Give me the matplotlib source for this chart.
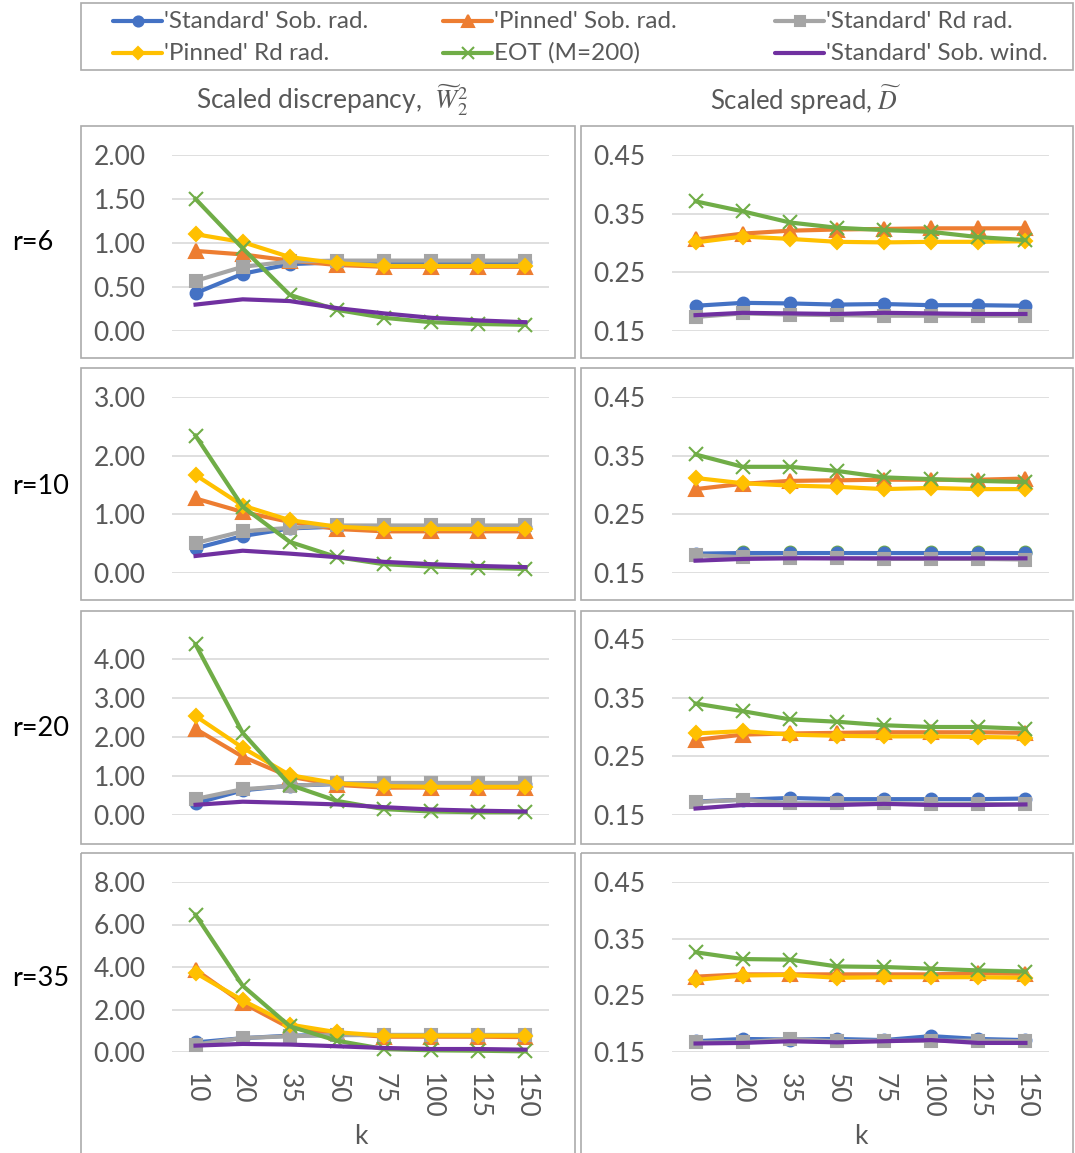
import numpy as np
import matplotlib
matplotlib.use('Agg')
import matplotlib.pyplot as plt
from matplotlib.patches import Rectangle
from matplotlib.ticker import FixedLocator, FormatStrFormatter

plt.rcParams['font.family'] = ['Lato', 'DejaVu Sans']
plt.rcParams['mathtext.fontset'] = 'stix'

k_labels = ['10', '20', '35', '50', '75', '100', '125', '150']
r_labels = ['r=6', 'r=10', 'r=20', 'r=35']

series_names = ["'Standard' Sob. rad.", "'Pinned' Sob. rad.", "'Standard' Rd rad.",
                "'Pinned' Rd rad.", "EOT (M=200)", "'Standard' Sob. wind."]

# scaled discrepancy, one row per r
w2_std_sob_rad = [[0.43, 0.65, 0.76, 0.78, 0.78, 0.78, 0.78, 0.78],
                  [0.42, 0.63, 0.76, 0.79, 0.78, 0.78, 0.78, 0.78],
                  [0.30, 0.63, 0.75, 0.79, 0.80, 0.80, 0.80, 0.80],
                  [0.45, 0.65, 0.77, 0.80, 0.80, 0.80, 0.80, 0.80]]
w2_pin_sob_rad = [[0.91, 0.87, 0.80, 0.75, 0.73, 0.73, 0.73, 0.73],
                  [1.27, 1.04, 0.87, 0.75, 0.71, 0.71, 0.71, 0.71],
                  [2.20, 1.49, 0.98, 0.77, 0.70, 0.70, 0.70, 0.70],
                  [3.87, 2.31, 1.13, 0.89, 0.72, 0.72, 0.72, 0.70]]
w2_std_rd_rad = [[0.57, 0.73, 0.79, 0.80, 0.80, 0.80, 0.80, 0.80],
                 [0.51, 0.71, 0.77, 0.81, 0.81, 0.81, 0.81, 0.81],
                 [0.41, 0.66, 0.74, 0.81, 0.82, 0.82, 0.82, 0.82],
                 [0.35, 0.66, 0.74, 0.80, 0.80, 0.80, 0.80, 0.80]]
w2_pin_rd_rad = [[1.10, 1.01, 0.84, 0.77, 0.74, 0.74, 0.74, 0.74],
                 [1.67, 1.15, 0.90, 0.79, 0.75, 0.75, 0.75, 0.75],
                 [2.53, 1.72, 1.02, 0.81, 0.74, 0.72, 0.72, 0.72],
                 [3.72, 2.43, 1.29, 0.93, 0.77, 0.77, 0.77, 0.77]]
w2_eot = [[1.50, 0.94, 0.41, 0.24, 0.15, 0.10, 0.08, 0.07],
          [2.34, 1.13, 0.53, 0.27, 0.15, 0.11, 0.09, 0.07],
          [4.36, 2.10, 0.77, 0.36, 0.15, 0.09, 0.07, 0.07],
          [6.45, 3.12, 1.21, 0.53, 0.14, 0.08, 0.06, 0.03]]
w2_std_sob_wind = [[0.30, 0.36, 0.34, 0.26, 0.20, 0.15, 0.12, 0.10],
                   [0.29, 0.38, 0.33, 0.27, 0.19, 0.15, 0.12, 0.10],
                   [0.26, 0.34, 0.31, 0.27, 0.20, 0.14, 0.11, 0.09],
                   [0.30, 0.38, 0.35, 0.27, 0.19, 0.14, 0.14, 0.11]]

# scaled spread, one row per r
d_std_sob_rad = [[0.193, 0.198, 0.197, 0.195, 0.196, 0.194, 0.194, 0.193],
                 [0.183, 0.184, 0.184, 0.184, 0.184, 0.184, 0.184, 0.184],
                 [0.173, 0.176, 0.179, 0.177, 0.177, 0.177, 0.177, 0.178],
                 [0.169, 0.173, 0.172, 0.173, 0.171, 0.178, 0.173, 0.171]]
d_pin_sob_rad = [[0.306, 0.316, 0.321, 0.323, 0.324, 0.325, 0.325, 0.325],
                 [0.293, 0.302, 0.307, 0.308, 0.309, 0.309, 0.309, 0.311],
                 [0.278, 0.287, 0.289, 0.290, 0.291, 0.291, 0.291, 0.290],
                 [0.283, 0.287, 0.287, 0.287, 0.287, 0.287, 0.289, 0.288]]
d_std_rd_rad = [[0.174, 0.180, 0.178, 0.177, 0.176, 0.176, 0.176, 0.176],
                [0.180, 0.177, 0.176, 0.175, 0.174, 0.174, 0.174, 0.173],
                [0.172, 0.176, 0.170, 0.170, 0.170, 0.169, 0.169, 0.168],
                [0.167, 0.167, 0.173, 0.169, 0.170, 0.170, 0.170, 0.169]]
d_pin_rd_rad = [[0.301, 0.311, 0.307, 0.302, 0.301, 0.302, 0.302, 0.303],
                [0.312, 0.303, 0.299, 0.297, 0.293, 0.295, 0.293, 0.293],
                [0.289, 0.293, 0.287, 0.285, 0.284, 0.284, 0.283, 0.282],
                [0.277, 0.285, 0.286, 0.281, 0.282, 0.282, 0.282, 0.281]]
d_eot = [[0.371, 0.354, 0.335, 0.326, 0.322, 0.319, 0.310, 0.305],
         [0.352, 0.331, 0.331, 0.324, 0.313, 0.310, 0.307, 0.305],
         [0.340, 0.327, 0.313, 0.309, 0.303, 0.300, 0.300, 0.297],
         [0.326, 0.314, 0.313, 0.301, 0.300, 0.297, 0.294, 0.292]]
d_std_sob_wind = [[0.177, 0.181, 0.180, 0.179, 0.181, 0.180, 0.179, 0.179],
                  [0.171, 0.174, 0.175, 0.175, 0.175, 0.175, 0.175, 0.175],
                  [0.161, 0.167, 0.167, 0.167, 0.169, 0.167, 0.167, 0.168],
                  [0.165, 0.166, 0.169, 0.167, 0.169, 0.171, 0.166, 0.166]]

# stray hollow markers sitting in the r=10 spread panel
d_r10_circles = [np.nan, 0.186, 0.186, 0.186, 0.186, 0.186, 0.186, 0.186]

w2_series = [w2_std_sob_rad, w2_pin_sob_rad, w2_std_rd_rad, w2_pin_rd_rad, w2_eot, w2_std_sob_wind]
d_series = [d_std_sob_rad, d_pin_sob_rad, d_std_rd_rad, d_pin_rd_rad, d_eot, d_std_sob_wind]

colors = ['#4472C4', '#ED7D31', '#A5A5A5', '#FFC000', '#70AD47', '#7030A0']
markers = ['o', '^', 's', 'D', 'x', 'None']
msizes = [8.5, 9.5, 8.5, 7.5, 10, 0]

w2_ylims = [(0, 2), (0, 3), (0, 4.5), (0, 8)]
w2_ticks = [[0, 0.5, 1, 1.5, 2], [0, 1, 2, 3], [0, 1, 2, 3, 4], [0, 2, 4, 6, 8]]
d_ylim = (0.15, 0.45)
d_ticks = [0.15, 0.25, 0.35, 0.45]

# page layout in pixels
W, H = 1075, 1153
col_x = [(172, 549), (672, 1049)]
row_y = [(155, 331), (397, 573), (639, 815), (882, 1052)]
box_x = [(81, 575), (581, 1073)]
box_y = [(126, 358), (368, 600), (611, 844), (853, 1170)]
row_mid = [243, 487, 728, 978]
grey_txt = '#595959'


def fig_rect(x0, y0, x1, y1):
    return [x0 / W, 1 - y1 / H, (x1 - x0) / W, (y1 - y0) / H]


fig = plt.figure(figsize=(W / 100, H / 100), dpi=100)

# full-page canvas for frames, titles and the legend
canvas = fig.add_axes([0, 0, 1, 1])
canvas.set_xlim(0, W)
canvas.set_ylim(H, 0)
canvas.axis('off')

for (bx0, bx1) in box_x:
    for (by0, by1) in box_y:
        canvas.add_patch(Rectangle((bx0, by0), bx1 - bx0, by1 - by0, fill=False,
                                   edgecolor='#ABABAB', lw=1.2))

canvas.add_patch(Rectangle((81, 3), 992, 67, fill=False, edgecolor='#ABABAB', lw=1.2))
leg_cols = [113, 443, 775]
leg_rows = [21, 53]
for i, name in enumerate(series_names):
    lx = leg_cols[i % 3]
    ly = leg_rows[i // 3]
    canvas.plot([lx, lx + 49], [ly, ly], color=colors[i], lw=3, solid_capstyle='round')
    if markers[i] != 'None':
        canvas.plot([lx + 24.5], [ly], marker=markers[i], color=colors[i],
                    ms=msizes[i] * 0.85, mew=1.5)
    canvas.text(lx + 51, ly, name, fontsize=17.5, color=grey_txt, va='center', ha='left')

canvas.text(332, 100, r'Scaled discrepancy,  $\widetilde{W}_2^2$', fontsize=19,
            color=grey_txt, ha='center', va='center')
canvas.text(806, 100, r'Scaled spread, $\widetilde{D}$', fontsize=18.5,
            color=grey_txt, ha='center', va='center')

for r, lab in enumerate(r_labels):
    canvas.text(12, row_mid[r], lab, fontsize=19.5, color='black', ha='left', va='center')

x = np.arange(len(k_labels))

for r in range(4):
    for c in range(2):
        ax = fig.add_axes(fig_rect(col_x[c][0], row_y[r][0], col_x[c][1], row_y[r][1]))
        ax.set_facecolor('none')
        if c == 0:
            data = w2_series
            ax.set_ylim(*w2_ylims[r])
            ax.yaxis.set_major_locator(FixedLocator(w2_ticks[r]))
        else:
            data = d_series
            ax.set_ylim(*d_ylim)
            ax.yaxis.set_major_locator(FixedLocator(d_ticks))
            if r == 1:
                ax.plot(x, d_r10_circles, ls='None', marker='o', ms=8.5, mfc='none',
                        mec=colors[4], mew=1.5, clip_on=False)
        ax.yaxis.set_major_formatter(FormatStrFormatter('%.2f'))
        ax.set_xlim(-0.5, len(k_labels) - 0.5)

        for s in range(6):
            ax.plot(x, data[s][r], color=colors[s], lw=3, marker=markers[s],
                    ms=msizes[s], mew=1.5, clip_on=False, solid_joinstyle='round')

        ax.grid(axis='y', color='#D9D9D9', lw=1.2)
        ax.set_axisbelow(True)
        for sp in ax.spines.values():
            sp.set_visible(False)
        ax.tick_params(axis='y', length=0, pad=19, labelsize=19, labelcolor=grey_txt)
        ax.tick_params(axis='x', length=0)
        ax.set_xticks(x)
        if r == 3:
            ax.set_xticklabels(k_labels, rotation=-90, fontsize=19, color=grey_txt)
            ax.tick_params(axis='x', pad=15)
            ax.set_xlabel('k', fontsize=19, color=grey_txt, labelpad=4)
        else:
            ax.set_xticklabels([])

fig.savefig('out.png', dpi=100)
